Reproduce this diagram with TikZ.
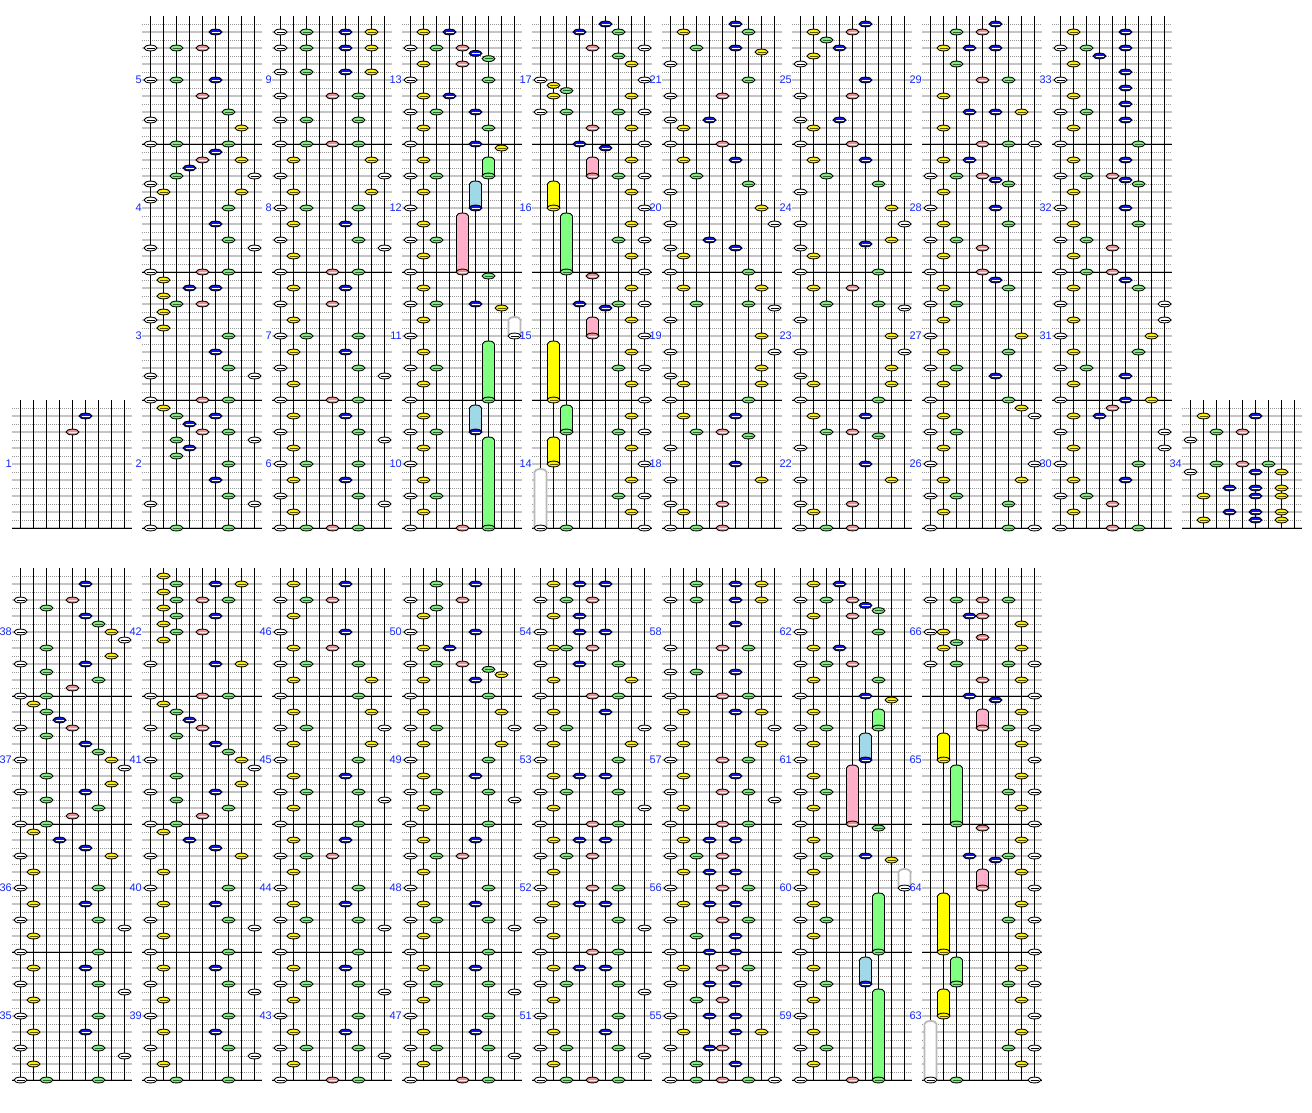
\documentclass[tikz,border=0pt]{standalone}
\usepackage{fontspec}
\setsansfont{Liberation Sans}
\definecolor{c0}{RGB}{255,255,255}\definecolor{c8}{RGB}{255,255,255}
\definecolor{c1}{RGB}{255,240,0}\definecolor{c7}{RGB}{255,240,0}
\definecolor{c2}{RGB}{128,236,128}\definecolor{c6}{RGB}{128,236,128}
\definecolor{c3}{RGB}{10,20,240}\definecolor{c5}{RGB}{10,20,240}
\definecolor{c4}{RGB}{240,144,144}
\definecolor{s0}{RGB}{0,0,0}\definecolor{s8}{RGB}{0,0,0}
\definecolor{s1}{RGB}{90,80,0}\definecolor{s7}{RGB}{90,80,0}
\definecolor{s2}{RGB}{40,100,40}\definecolor{s6}{RGB}{40,100,40}
\definecolor{s3}{RGB}{255,255,255}\definecolor{s5}{RGB}{255,255,255}
\definecolor{s4}{RGB}{255,230,230}
\definecolor{b0}{RGB}{255,255,255}\definecolor{b8}{RGB}{255,255,255}
\definecolor{b1}{RGB}{255,255,0}\definecolor{b7}{RGB}{255,255,0}
\definecolor{b2}{RGB}{128,255,128}\definecolor{b6}{RGB}{128,255,128}
\definecolor{b3}{RGB}{160,216,232}\definecolor{b5}{RGB}{160,216,232}
\definecolor{b4}{RGB}{255,176,200}
\definecolor{lblue}{RGB}{20,40,255}
\definecolor{gridsolid}{RGB}{196,196,196}
\definecolor{griddot}{RGB}{150,150,150}
\tikzset{
 dgrid/.style={draw=griddot, line width=0.8, dash pattern=on 1 off 1},
 sgrid/.style={draw=gridsolid, line width=1.3},
 mline/.style={draw=black, line width=1},
 laneline/.style={draw=black, line width=1},
 lbl/.style={text=lblue, font=\sffamily\fontsize{11}{11}\selectfont, inner sep=0pt, anchor=east},
 ln0/.style={draw=gray!55, line width=1.8},
 ln8/.style={draw=gray!55, line width=1.8},
 ln1/.style={draw=black, line width=0.9}, ln2/.style={draw=black, line width=0.9},
 ln3/.style={draw=black, line width=0.9}, ln4/.style={draw=black, line width=0.9},
 ln5/.style={draw=black, line width=0.9}, ln6/.style={draw=black, line width=0.9},
 ln7/.style={draw=black, line width=0.9},
}
\newcommand\chartgrid[1]{%
  \foreach \r in {1,...,64}{\ifnum\r>#1 \ifodd\r \draw[dgrid] (12,8*\r) -- (132,8*\r);\else \draw[sgrid] (12,8*\r) -- (132,8*\r);\fi\fi}
  \foreach \r in {16,32,48,64}{\ifnum\r>#1 \draw[mline] (12,8*\r) -- (132,8*\r);\fi}
  \foreach \l in {0,...,8}{\draw[laneline] (20.5+13*\l,8*#1) -- (20.5+13*\l,512);}
}
\newcommand\fourlabels[1]{%
  \foreach \j in {0,...,3}{\pgfmathtruncatemacro\mm{#1+\j}\node[lbl] (lab\mm) at (12,{8*(56-16*\j)}) {\mm};}
}
\newcommand\nt[2]{%
  \filldraw[draw=black, line width=0.9, fill=c#1] (20.5+13*#1, 8*#2) ellipse [x radius=6.4, y radius=2.9];
  \draw[s#1, line width=0.9] (20.5+13*#1-4, 8*#2) -- (20.5+13*#1+4, 8*#2);
}
\newcommand\nts[1]{\foreach \l/\r in {#1}{\nt{\l}{\r}}}
\newcommand\lnote[3]{%
  \filldraw[ln#1, fill=b#1] (20.5+13*#1-6, 8*#2) -- (20.5+13*#1-6, 8*#3) arc[start angle=180, end angle=360, x radius=6, y radius=3] -- (20.5+13*#1+6, 8*#2) -- cycle;
  \nt{#1}{#2}%
}
\newcommand\lns[1]{\foreach \l/\a/\b in {#1}{\lnote{\l}{\a}{\b}}}
\begin{document}
\begin{tikzpicture}[x=1pt,y=-1pt]
\useasboundingbox[fill=white] (0,0) rectangle (1312,1112);
% ---------------- top row ----------------
\begin{scope}[shift={(0,16)}]
 \chartgrid{48}
 \node[lbl] (lab1) at (12,448) {1};
 \nts{5/50,4/52}
\end{scope}
\begin{scope}[shift={(130,16)}]
 \chartgrid{0}\fourlabels{2}
 \nts{5/2, 0/4,2/4,4/4, 0/8,2/8,5/8, 4/10, 6/12, 0/13, 7/14, 0/16,2/16,6/16, 5/17, 4/18,7/18, 3/19, 2/20,8/20, 0/21, 1/22,7/22, 0/23, 6/24, 5/26, 6/28, 0/29,8/29, 0/32,4/32,6/32, 1/33, 3/34,5/34, 1/35, 2/36,4/36, 1/37, 0/38, 1/39, 6/40, 5/42, 6/44, 0/45,8/45, 0/48,4/48,6/48, 1/49, 2/50,5/50, 3/51, 4/52,6/52, 2/53,8/53, 3/54, 2/55, 6/56, 5/58, 6/60, 0/61,8/61, 0/64,2/64,6/64}
\end{scope}
\begin{scope}[shift={(260,16)}]
 \chartgrid{0}\fourlabels{6}
 \nts{0/2,2/2,5/2,7/2, 0/4,2/4,5/4,7/4, 0/7,2/7,5/7,7/7, 0/10,4/10,6/10, 0/13,2/13,6/13, 0/16,2/16,4/16,6/16, 1/18,7/18, 0/20,8/20, 1/22,7/22, 0/24,2/24,6/24, 1/26,5/26, 0/28,6/28, 8/29, 1/30, 0/32,4/32,6/32, 1/34,5/34, 0/36,4/36, 1/38, 0/40,2/40,6/40, 1/42,5/42, 0/44,6/44, 8/45, 1/46, 0/48,4/48,6/48, 1/50,5/50, 0/52,6/52, 8/53, 1/54, 0/56,2/56,6/56, 1/58,5/58, 0/60,6/60, 8/61, 1/62, 0/64,2/64,4/64,6/64}
\end{scope}
\begin{scope}[shift={(390,16)}]
 \chartgrid{0}\fourlabels{10}
 \lns{6/20/18, 5/24/21, 4/32/25, 8/40/38, 6/48/41, 5/52/49, 6/64/53}
 \nts{1/2,3/2, 0/4,2/4,4/4, 5/4.67, 6/5.33, 1/6,4/6, 0/8,6/8, 1/10,3/10, 0/12,2/12,5/12, 1/14,6/14, 0/16,5/16, 7/16.5, 1/18, 0/20,2/20, 1/22, 0/24, 1/26, 0/28,2/28, 1/30, 0/32, 6/32.5, 1/34, 0/36,2/36,5/36, 7/36.5, 1/38, 0/40, 1/42, 0/44,2/44, 1/46, 0/48, 1/50, 0/52,2/52, 1/54, 0/56, 1/58, 0/60,2/60, 1/62, 0/64,4/64}
\end{scope}
\begin{scope}[shift={(520,16)}]
 \chartgrid{0}\fourlabels{14}
 \lns{4/20/18, 1/24/21, 2/32/25, 4/40/38, 1/48/41, 2/52/49, 1/56/53, 0/64/57}
 \nts{5/1, 3/2,6/2, 4/4,8/4, 6/5, 7/6, 0/8,8/8, 1/8.67, 2/9.33, 1/10,7/10, 0/12,2/12,6/12,8/12, 4/14,7/14, 3/16,8/16, 5/16.5, 7/18, 6/20,8/20, 7/22, 8/24, 7/26, 6/28,8/28, 7/30, 8/32, 4/32.5, 7/34, 3/36,6/36,8/36, 5/36.5, 7/38, 8/40, 7/42, 6/44,8/44, 7/46, 8/48, 7/50, 6/52,8/52, 7/54, 8/56, 7/58, 6/60,8/60, 7/62, 2/64,8/64}
\end{scope}
\begin{scope}[shift={(650,16)}]
 \chartgrid{0}\fourlabels{18}
 \nts{5/1, 1/2,6/2, 2/4,5/4, 7/4.5, 0/6, 6/8, 0/10,4/10, 0/13,3/13, 1/14, 0/16,4/16, 1/18,5/18, 2/20, 6/21, 0/22, 7/24, 0/26,8/26, 3/28, 0/29,5/29, 1/30, 0/32,6/32, 1/34,7/34, 2/36,6/36, 8/36.5, 0/38, 7/40, 0/42,8/42, 7/44, 0/45, 1/46,7/46, 0/48,6/48, 1/50,5/50, 2/52,4/52, 6/52.5, 0/54, 5/56, 0/58,7/58, 0/61,4/61, 1/62, 0/64,2/64,4/64}
\end{scope}
\begin{scope}[shift={(780,16)}]
 \chartgrid{0}\fourlabels{22}
 \nts{5/1, 1/2,4/2, 2/3, 3/4, 1/5, 0/6, 5/8, 0/10,4/10, 0/13,3/13, 1/14, 0/16,4/16, 1/18,5/18, 2/20, 6/21, 0/22, 7/24, 0/26,8/26, 7/28, 5/28.5, 0/29, 1/30, 0/32,6/32, 1/34,4/34, 2/36,6/36, 8/36.5, 0/38, 7/40, 0/42,8/42, 7/44, 0/45, 1/46,7/46, 0/48,6/48, 1/50,5/50, 2/52,4/52, 6/52.5, 0/54, 5/56, 0/58,7/58, 0/61,4/61, 1/62, 0/64,2/64,4/64}
\end{scope}
\begin{scope}[shift={(910,16)}]
 \chartgrid{0}\fourlabels{26}
 \nts{5/1, 2/2,4/2, 1/4,3/4,5/4, 2/6, 4/8,6/8, 1/10, 3/12,5/12,7/12, 1/14, 4/16,6/16,8/16, 1/18,3/18, 0/20,2/20,4/20, 5/20.5, 6/21, 1/22, 0/24,5/24, 1/26,6/26, 0/28,2/28, 4/29, 1/30, 0/32,4/32, 5/33, 1/34,6/34, 0/36,2/36, 1/38, 0/40,7/40, 1/42,6/42, 0/44,2/44, 5/45, 1/46, 0/48,6/48, 7/49, 1/50,8/50, 0/52,2/52, 1/54, 0/56,8/56, 1/58,7/58, 0/60,2/60, 6/61, 1/62, 0/64,6/64,8/64}
\end{scope}
\begin{scope}[shift={(1040,16)}]
 \chartgrid{0}\fourlabels{30}
 \nts{1/2,5/2, 0/4,2/4,5/4, 3/5, 1/6, 5/7, 0/8, 5/9, 1/10, 5/11, 0/12,2/12, 5/13, 1/14, 0/16,6/16, 1/18,5/18, 0/20,2/20,4/20, 5/20.5, 6/21, 1/22, 0/24,5/24, 1/26,6/26, 0/28,2/28, 4/29, 1/30, 0/32,2/32,4/32, 5/33, 1/34,6/34, 0/36,8/36, 1/38,8/38, 0/40,7/40, 1/42,6/42, 0/44,2/44, 5/45, 1/46, 0/48,5/48,7/48, 4/49, 1/50,3/50, 0/52,8/52, 1/54,8/54, 0/56,6/56, 1/58,5/58, 0/60,2/60, 4/61, 1/62, 0/64,4/64,6/64}
\end{scope}
\begin{scope}[shift={(1170,16)}]
 \chartgrid{48}
 \node[lbl] (lab34) at (12,448) {34};
 \nts{1/50,5/50, 2/52,4/52, 0/53, 2/56,4/56,6/56, 0/57,5/57,7/57, 3/59,5/59,7/59, 1/60,5/60,7/60, 3/62,5/62,7/62, 1/63,5/63,7/63}
\end{scope}
% ---------------- bottom row ----------------
\begin{scope}[shift={(0,568)}]
 \chartgrid{0}\fourlabels{35}
 \nts{5/2, 0/4,4/4, 2/5, 5/6, 6/7, 0/8,7/8, 8/9, 2/10, 7/11, 0/12,5/12, 2/13, 6/14, 4/15, 0/16,2/16, 1/17, 2/18, 3/19, 0/20,4/20, 2/21, 5/22, 6/23, 0/24,7/24, 8/25, 2/26, 7/27, 0/28,5/28, 2/29, 6/30, 4/31, 0/32,2/32, 1/33, 3/34, 5/35, 0/36,7/36, 1/38, 0/40,6/40, 1/42,5/42, 0/44,6/44, 8/45, 1/46, 0/48,6/48, 1/50,5/50, 0/52,6/52, 8/53, 1/54, 0/56,6/56, 1/58,5/58, 0/60,6/60, 8/61, 1/62, 0/64,2/64,6/64}
\end{scope}
\begin{scope}[shift={(130,568)}]
 \chartgrid{0}\fourlabels{39}
 \nts{1/1, 2/2,5/2,7/2, 1/3, 2/4,4/4,6/4, 1/5, 2/6,5/6, 1/7, 2/8,4/8, 1/9, 0/12,5/12,7/12, 0/16,4/16,6/16, 1/17, 2/18, 3/19, 0/20,4/20, 2/21, 5/22, 6/23, 0/24,7/24, 8/25, 2/26, 7/27, 0/28,5/28, 2/29, 6/30, 4/31, 0/32,2/32, 1/33, 3/34, 5/35, 0/36,7/36, 1/38, 0/40,6/40, 1/42,5/42, 0/44,6/44, 8/45, 1/46, 0/48,6/48, 1/50,5/50, 0/52,6/52, 8/53, 1/54, 0/56,6/56, 1/58,5/58, 0/60,6/60, 8/61, 1/62, 0/64,2/64,6/64}
\end{scope}
\begin{scope}[shift={(260,568)}]
 \chartgrid{0}\fourlabels{43}
 \nts{1/2,5/2, 0/4,2/4,4/4, 1/6, 0/8,5/8, 1/10,4/10, 0/12,2/12,6/12, 1/14,7/14, 0/16,6/16, 1/18,7/18, 0/20,2/20,8/20, 1/22,7/22, 0/24,6/24, 1/26,5/26, 0/28,2/28,6/28, 8/29, 1/30, 0/32,6/32, 1/34,5/34, 0/36,2/36,4/36, 1/38, 0/40,6/40, 1/42,5/42, 0/44,2/44,6/44, 8/45, 1/46, 0/48,6/48, 1/50,5/50, 0/52,2/52,6/52, 8/53, 1/54, 0/56,6/56, 1/58,5/58, 0/60,2/60,6/60, 8/61, 1/62, 0/64,4/64,6/64}
\end{scope}
\begin{scope}[shift={(390,568)}]
 \chartgrid{0}\fourlabels{47}
 \nts{2/2,5/2, 0/4,4/4, 2/5, 1/6, 0/8,5/8, 1/10,3/10, 0/12,2/12,4/12, 6/12.67, 7/13.33, 1/14,5/14, 0/16,6/16, 1/18,7/18, 0/20,2/20,8/20, 1/22,7/22, 0/24,6/24, 1/26,5/26, 0/28,2/28,6/28, 8/29, 1/30, 0/32,6/32, 1/34,5/34, 0/36,2/36,4/36, 1/38, 0/40,6/40, 1/42,5/42, 0/44,2/44,6/44, 8/45, 1/46, 0/48,6/48, 1/50,5/50, 0/52,2/52,6/52, 8/53, 1/54, 0/56,6/56, 1/58,5/58, 0/60,2/60,6/60, 8/61, 1/62, 0/64,4/64,6/64}
\end{scope}
\begin{scope}[shift={(520,568)}]
 \chartgrid{0}\fourlabels{51}
 \nts{1/2,3/2,5/2, 0/4,2/4,4/4, 1/6,3/6, 0/8,3/8,5/8, 1/10,2/10,4/10, 0/12,3/12,6/12, 1/14,7/14, 0/16,4/16,6/16, 1/18,5/18, 0/20,2/20,8/20, 1/22,7/22, 0/24,6/24, 1/26,3/26,5/26, 0/28,2/28,6/28, 1/30,8/30, 0/32,4/32,6/32, 1/34,3/34,5/34, 0/36,2/36,4/36, 1/38, 0/40,4/40,6/40, 1/42,3/42,5/42, 0/44,6/44, 8/45, 1/46, 0/48,4/48,6/48, 1/50,3/50,5/50, 0/52,2/52,6/52, 8/53, 1/54, 0/56,6/56, 1/58,5/58, 0/60,2/60,6/60, 8/61, 1/62, 0/64,2/64,4/64,6/64}
\end{scope}
\begin{scope}[shift={(650,568)}]
 \chartgrid{0}\fourlabels{55}
 \nts{2/2,5/2,7/2, 0/4,2/4,5/4,7/4, 5/7, 0/10,4/10,6/10, 0/13,2/13,5/13, 0/16,4/16,6/16, 1/18,5/18,7/18, 0/20,8/20, 1/22,7/22, 0/24,4/24,6/24, 1/26,5/26, 0/28,4/28,6/28, 8/29, 1/30, 0/32,4/32,6/32, 1/34,3/34,5/34, 0/36,2/36,4/36, 1/38,3/38,5/38, 0/40,4/40,6/40, 1/42,3/42,5/42, 0/44,4/44,6/44, 2/46,5/46, 0/48,3/48,5/48, 1/50,4/50,6/50, 0/52,3/52,5/52, 2/54,4/54, 0/56,3/56,5/56, 1/58,5/58,7/58, 0/60,3/60,4/60, 2/62,5/62, 0/64,2/64,4/64,6/64,8/64}
\end{scope}
\begin{scope}[shift={(780,568)}]
 \chartgrid{0}\fourlabels{59}
 \lns{6/20/18, 5/24/21, 4/32/25, 8/40/38, 6/48/41, 5/52/49, 6/64/53}
 \nts{1/2,3/2, 0/4,2/4,4/4, 5/4.67, 6/5.33, 1/6,4/6, 0/8,6/8, 1/10,3/10, 0/12,2/12,4/12, 1/14,6/14, 0/16,5/16, 7/16.5, 1/18, 0/20,2/20, 1/22, 0/24, 1/26, 0/28,2/28, 1/30, 0/32, 6/32.5, 1/34, 0/36,2/36,5/36, 7/36.5, 1/38, 0/40, 1/42, 0/44,2/44, 1/46, 0/48, 1/50, 0/52,2/52, 1/54, 0/56, 1/58, 0/60,2/60, 1/62, 0/64,4/64}
\end{scope}
\begin{scope}[shift={(910,568)}]
 \chartgrid{0}\fourlabels{63}
 \lns{4/20/18, 1/24/21, 2/32/25, 4/40/38, 1/48/41, 2/52/49, 1/56/53, 0/64/57}
 \nts{0/4,2/4,4/4,6/4, 3/6,4/6, 7/7, 0/8,1/8, 4/8.67, 2/9.33, 1/10,7/10, 0/12,2/12,6/12,8/12, 4/14,7/14, 3/16,8/16, 5/16.5, 7/18, 6/20,8/20, 7/22, 8/24, 7/26, 6/28,8/28, 7/30, 8/32, 4/32.5, 7/34, 3/36,6/36,8/36, 5/36.5, 7/38, 8/40, 7/42, 6/44,8/44, 7/46, 8/48, 7/50, 6/52,8/52, 7/54, 8/56, 7/58, 6/60,8/60, 7/62, 2/64,8/64}
\end{scope}
\end{tikzpicture}
\end{document}
